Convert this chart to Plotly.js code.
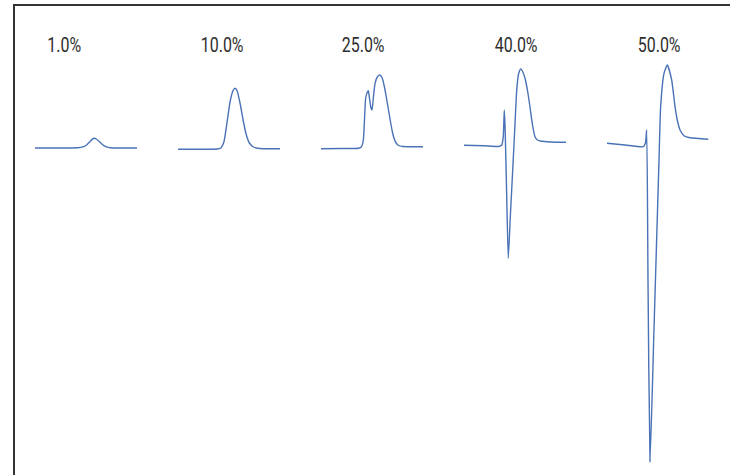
<!DOCTYPE html>
<html>
<head>
<meta charset="utf-8">
<script src="https://cdn.plot.ly/plotly-3.0.1.min.js"></script>
<style>
html,body{margin:0;padding:0;background:#fff;overflow:hidden;}
#wrap{position:relative;width:730px;height:475px;overflow:hidden;}
#chart{width:730px;height:475px;}
#frame{position:absolute;left:13px;top:4px;width:717px;height:471px;border-left:2px solid #333;border-top:2px solid #333;pointer-events:none;box-sizing:border-box;}
</style>
</head>
<body>
<div id="wrap"><div id="chart"></div><div id="frame"></div></div>
<script>
// Concentration labels (one panel each)
const labels = ["1.0%", "10.0%", "25.0%", "40.0%", "50.0%"];

// Panel 1: 1.0%
const t1 = [0, 30, 42, 46, 50, 53, 56, 58, 60, 63, 66, 70, 74, 85, 100];
const s1 = [0, 0, 0.2, 0.8, 2.5, 5.5, 8.6, 9.7, 9, 6.5, 3.5, 1.2, 0.3, 0, 0];

// Panel 2: 10.0%
const t2 = [0, 20, 38, 42, 45, 48, 51, 54, 56, 58, 61, 64, 67, 70, 74, 80, 100];
const s2 = [-1.3, -1.2, -1, 0, 6, 25, 46, 57.5, 59.7, 57, 44, 27, 13, 5, 1, -0.5, -0.7];

// Panel 3: 25.0%
const t3 = [0, 20, 37, 39.5, 41.5, 43.8, 45.5, 46.4, 47.5, 49, 50, 51.5, 53, 55.5, 57.8, 60, 62, 64, 66, 68, 70, 72, 74, 76, 80, 100];
const s3 = [-0.7, -0.5, -0.2, 1, 8, 50, 56, 57.3, 50, 40, 38, 52, 64.7, 71.5, 73, 70, 62, 51, 39, 27, 16, 8.5, 4.5, 2.5, 1.5, 1.3];

// Panel 4: 40.0%
const t4 = [0, 20, 34, 37, 38.5, 39.5, 40.3, 41.8, 43.4, 45.5, 48, 50, 51.7, 53.5, 55.6, 57.5, 60, 62.5, 64.7, 67, 69.6, 72, 75, 85, 100];
const s4 = [2.7, 2.2, 1.5, 3, 11.3, 38, 20, -45, -110.3, -67, -17, 24, 58, 74, 79, 76.5, 69, 56, 41, 24, 11.3, 8, 7, 6, 5.7];

// Panel 5: 50.0%
const t5 = [0, 17.6, 35.6, 37.7, 38.9, 40.2, 42.2, 46.1, 51, 52.6, 55.9, 59.1, 63.4, 66.7, 68.9, 71.6, 75.8, 81.4, 99.3];
const s5 = [4.7, 3, 1.3, 5, 18, -132, -313.7, -180, -12, 41.3, 74.7, 83, 68, 41.3, 28, 18, 12, 10.3, 8.7];

const times = [t1, t2, t3, t4, t5];
const signals = [s1, s2, s3, s4, s5];

const W = 730, H = 475;
const panelLeft = [35, 178, 321, 464, 607];
const panelWidth = 102;
const labelCenter = [64, 222, 363, 516, 659];
const lineColor = "#4a72b6";

const traces = [];
const layout = {
  width: W, height: H,
  margin: {l: 0, r: 0, t: 0, b: 0},
  paper_bgcolor: "#ffffff",
  plot_bgcolor: "rgba(0,0,0,0)",
  showlegend: false,
  yaxis: {range: [-327, 148], visible: false, showgrid: false, zeroline: false, fixedrange: true},
  annotations: []
};

for (let i = 0; i < 5; i++) {
  const ax = i === 0 ? "x" : "x" + (i + 1);
  const axKey = i === 0 ? "xaxis" : "xaxis" + (i + 1);
  traces.push({
    type: "scatter", mode: "lines",
    x: times[i], y: signals[i],
    xaxis: ax, yaxis: "y",
    line: {color: lineColor, width: 1.4, shape: "spline", smoothing: 0.5},
    hoverinfo: "skip"
  });
  layout[axKey] = {
    domain: [panelLeft[i] / W, (panelLeft[i] + panelWidth) / W],
    range: [0, 100], visible: false, showgrid: false, zeroline: false,
    anchor: "y", fixedrange: true
  };
  layout.annotations.push({
    text: labels[i], xref: "paper", yref: "paper",
    x: labelCenter[i] / W, y: 1 - 45 / H, xanchor: "center", yanchor: "middle",
    showarrow: false,
    font: {family: "Roboto", size: 21, color: "#2e2e2e"}
  });
}

Plotly.newPlot("chart", traces, layout, {displayModeBar: false, staticPlot: true}).then(function () {
  // narrow the label glyphs to mimic the condensed face of the original
  document.querySelectorAll("#chart .annotation-text").forEach(function (t) {
    const w = t.getComputedTextLength();
    t.setAttribute("lengthAdjust", "spacingAndGlyphs");
    t.setAttribute("textLength", (w * 0.76).toFixed(2));
  });
});
</script>
</body>
</html>
